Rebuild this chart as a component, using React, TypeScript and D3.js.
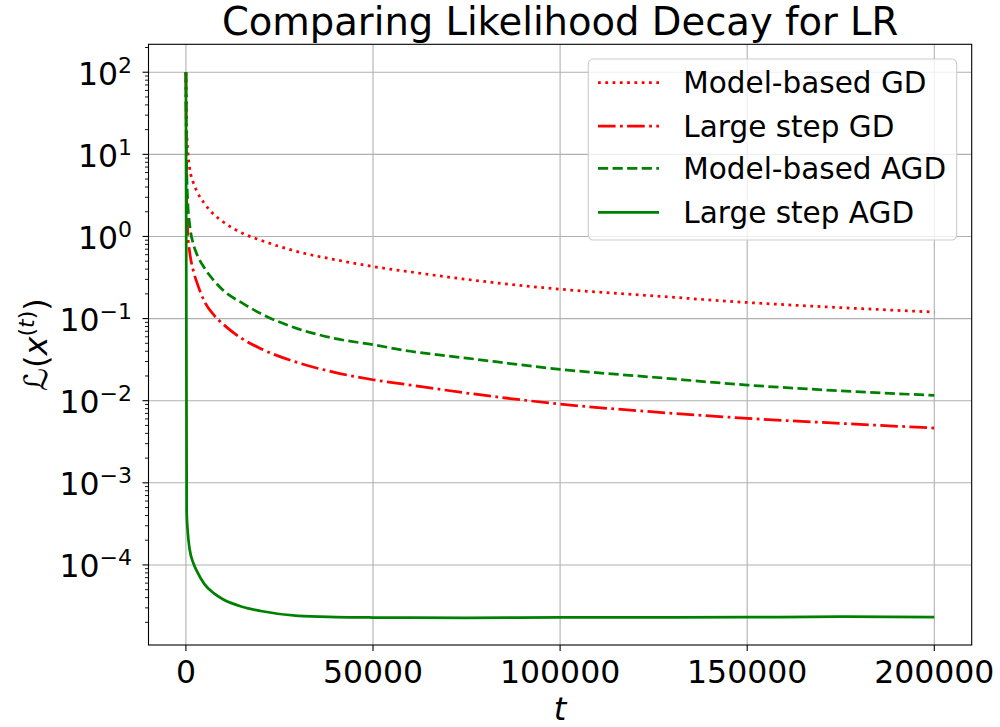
import React from "react";
import * as d3 from "d3";

const T = [0, 200, 500, 1000, 2000, 3000, 5000, 7500, 10000, 15000, 20000, 30000, 40000, 50000, 60000, 75000, 100000, 125000, 150000, 175000, 200000];

const modelGD = [100, 20, 11, 6.8, 4.5, 3.5, 2.5, 1.85, 1.5, 1.1, 0.9, 0.65, 0.52, 0.43, 0.37, 0.30, 0.228, 0.189, 0.157, 0.136, 0.12];
const largeGD = [100, 3, 1.1, 0.65, 0.38, 0.27, 0.16, 0.11, 0.085, 0.057, 0.043, 0.029, 0.022, 0.018, 0.0155, 0.0124, 0.0091, 0.0073, 0.0061, 0.0053, 0.00464];
const modelAGD = [100, 7, 2.6, 1.4, 0.8, 0.6, 0.41, 0.29, 0.22, 0.155, 0.115, 0.075, 0.057, 0.048, 0.040, 0.033, 0.0241, 0.0193, 0.0155, 0.0132, 0.0116];
const largeAGD = [100, 4.5e-4, 2.5e-4, 1.55e-4, 1.05e-4, 8.3e-5, 5.8e-5, 4.5e-5, 3.8e-5, 3.1e-5, 2.75e-5, 2.4e-5, 2.32e-5, 2.29e-5, 2.28e-5, 2.27e-5, 2.3e-5, 2.3e-5, 2.31e-5, 2.34e-5, 2.32e-5];

const seriesNames = ["Model-based GD", "Large step GD", "Model-based AGD", "Large step AGD"];
const xTicks = [0, 50000, 100000, 150000, 200000];
const yTickExps = [-4, -3, -2, -1, 0, 1, 2];

const LW = 2.75;
const styles = [
  { color: "#ff0000", dash: `${1 * LW},${1.65 * LW}`, data: modelGD },
  { color: "#ff0000", dash: `${6.4 * LW},${1.6 * LW},${1 * LW},${1.6 * LW}`, data: largeGD },
  { color: "#008000", dash: `${3.7 * LW},${1.6 * LW}`, data: modelAGD },
  { color: "#008000", dash: "none", data: largeAGD },
];

const L = 148.5, R = 971.7, TOP = 44.3, B = 645;
const FONT = "'DejaVu Sans', sans-serif";

export default function App() {
  const x = d3.scaleLinear().domain([-10000, 210000]).range([L, R]);
  const y = d3.scaleLog().domain([Math.pow(10, -4.975), Math.pow(10, 2.34)]).range([B, TOP]);
  const [y0, y1] = y.domain();
  const minor: number[] = [];
  for (let d = -6; d <= 3; d++) {
    for (let k = 2; k <= 9; k++) {
      const v = k * Math.pow(10, d);
      if (v >= y0 && v <= y1) minor.push(v);
    }
  }
  const line = (vals: number[]) =>
    d3.line<number>().x((_, i) => x(T[i])).y((v) => y(v)).curve(d3.curveMonotoneX)(vals) || "";

  const legendRows = [82.7, 126, 168.3, 212.3];

  return (
    <svg width={1000} height={727} style={{ position: "absolute", left: 0, top: 0, background: "#fff" }} fontFamily={FONT}>
      <defs>
        <clipPath id="plot">
          <rect x={L} y={TOP} width={R - L} height={B - TOP} />
        </clipPath>
      </defs>
      <rect x={0} y={0} width={1000} height={727} fill="#fff" />
      {/* grid */}
      {xTicks.map((t) => (
        <line key={"gx" + t} x1={x(t)} x2={x(t)} y1={TOP} y2={B} stroke="#b0b0b0" strokeWidth={1.1} />
      ))}
      {yTickExps.map((e) => (
        <line key={"gy" + e} x1={L} x2={R} y1={y(Math.pow(10, e))} y2={y(Math.pow(10, e))} stroke="#b0b0b0" strokeWidth={1.1} />
      ))}
      {/* series */}
      <g clipPath="url(#plot)">
        {styles.map((s, i) => (
          <path key={i} d={line(s.data)} fill="none" stroke={s.color} strokeWidth={LW} strokeDasharray={s.dash} strokeLinecap="butt" />
        ))}
      </g>
      {/* frame */}
      <rect x={L} y={TOP} width={R - L} height={B - TOP} fill="none" stroke="#000" strokeWidth={1.1} />
      {/* x ticks */}
      {xTicks.map((t) => (
        <g key={"xt" + t}>
          <line x1={x(t)} x2={x(t)} y1={B} y2={B + 6} stroke="#000" strokeWidth={1.1} />
          <text x={x(t)} y={683} textAnchor="middle" fontSize={31.5} fill="#000">{t}</text>
        </g>
      ))}
      {/* y ticks */}
      {minor.map((v, i) => (
        <line key={"ym" + i} x1={L - 3.5} x2={L} y1={y(v)} y2={y(v)} stroke="#000" strokeWidth={0.9} />
      ))}
      {yTickExps.map((e) => {
        const yy = y(Math.pow(10, e));
        const sup = e < 0 ? "\u2212" + Math.abs(e) : String(e);
        return (
          <g key={"yt" + e}>
            <line x1={L - 6} x2={L} y1={yy} y2={yy} stroke="#000" strokeWidth={1.1} />
            <text x={132} y={yy + 12.3} textAnchor="end" fontSize={31.5} fill="#000">
              10<tspan fontSize={22} dy={-12}>{sup}</tspan>
            </text>
          </g>
        );
      })}
      {/* title */}
      <text x={(L + R) / 2} y={35} textAnchor="middle" fontSize={38.5} fill="#000">Comparing Likelihood Decay for LR</text>
      {/* x label */}
      <text x={(L + R) / 2} y={720} textAnchor="middle" fontSize={32} fontStyle="italic" fill="#000">t</text>
      {/* y label */}
      <text transform={`translate(47, ${(TOP + B) / 2}) rotate(-90)`} textAnchor="middle" fontSize={32} fill="#000">
        <tspan fontStyle="italic">ℒ</tspan>(<tspan fontStyle="italic">x</tspan>
        <tspan fontSize={22} dy={-13}>(<tspan fontStyle="italic">t</tspan>)</tspan>
        <tspan dy={13}>)</tspan>
      </text>
      {/* legend */}
      <rect x={588.3} y={59} width={368.4} height={181} rx={5} fill="#fff" fillOpacity={0.8} stroke="#cccccc" strokeWidth={1.1} />
      {seriesNames.map((n, i) => (
        <g key={n}>
          <line x1={598} x2={659} y1={legendRows[i]} y2={legendRows[i]} stroke={styles[i].color} strokeWidth={LW} strokeDasharray={styles[i].dash} />
          <text x={683.3} y={legendRows[i] + 10.6} fontSize={29.5} fill="#000">{n}</text>
        </g>
      ))}
    </svg>
  );
}
